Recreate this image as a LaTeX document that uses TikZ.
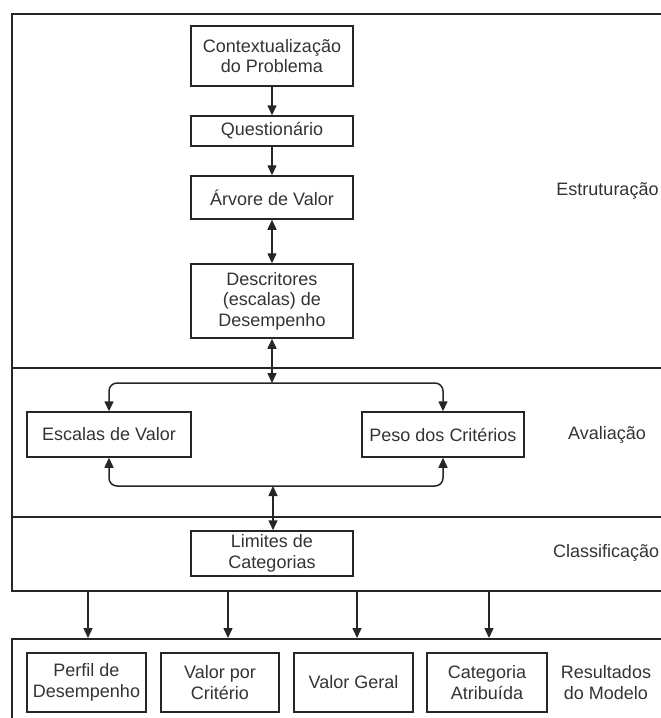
\documentclass[tikz,border=0pt]{standalone}
\usepackage{fontspec}
\setmainfont{Liberation Sans}
\usetikzlibrary{arrows.meta}

\tikzset{
  ink/.style={draw=black!85, line width=1.5pt},
  band/.style={ink, anchor=north west, inner sep=0pt, minimum width=700pt},
  stepbox/.style={ink, text=black!80, align=center, inner sep=0pt,
                  font=\fontsize{18}{20.5}\selectfont},
  tag/.style={text=black!80, align=center, inner sep=0pt,
              font=\fontsize{18}{20.5}\selectfont},
  tip/.style={Triangle[length=10pt,width=9pt]},
  flow/.style={ink, -{Triangle[length=10pt,width=9pt]}},
  twoway/.style={ink, {Triangle[length=10pt,width=9pt]}-{Triangle[length=10pt,width=9pt]}},
}

\begin{document}
\begin{tikzpicture}[x=1pt, y=-1pt]
\useasboundingbox (0,0) rectangle (661,718);
\clip (0,0) rectangle (661,718);

% stage bands
\node[band, minimum height=354pt] (band1) at (11,13) {};
\node[band, minimum height=149pt] (band2) at (11,367) {};
\node[band, minimum height=74pt]  (band3) at (11,516) {};
\node[band, minimum height=120pt] (band4) at (11,638) {};

% stage names
\node[tag] (lEst) at (607.5,191) {Estruturação};
\node[tag] (lAva) at (607,435) {Avaliação};
\node[tag, anchor=west] (lCla) at (553,553) {Classificação};
\node[tag] (lRes) at (606,682.5) {Resultados\\do Modelo};

% structuring steps
\node[stepbox, minimum width=162pt, minimum height=60pt] (ctx) at (272,56) {Contextualização\\do Problema};
\node[stepbox, minimum width=162pt, minimum height=30pt] (quest) at (272,131) {Questionário};
\node[stepbox, minimum width=162pt, minimum height=43pt] (arv) at (272,197.5) {Árvore de Valor};
\node[stepbox, minimum width=162pt, minimum height=74pt] (desc) at (272,301) {Descritores\\(escalas) de\\Desempenho};

% evaluation
\node[stepbox, minimum width=164pt, minimum height=45pt] (esc) at (109,434.5) {Escalas de Valor};
\node[stepbox, minimum width=162pt, minimum height=45pt] (peso) at (443,434.5) {Peso dos Critérios};

% classification
\node[stepbox, minimum width=162pt, minimum height=45pt] (lim) at (272,553.5) {Limites de\\Categorias};

% model results
\node[stepbox, minimum width=119pt, minimum height=59pt] (perfil) at (86.5,682.5) {Perfil de\\Desempenho};
\node[stepbox, minimum width=118pt, minimum height=59pt] (vcrit) at (220,682.5) {Valor por\\Critério};
\node[stepbox, minimum width=119pt, minimum height=59pt] (vger) at (353.5,682.5) {Valor Geral};
\node[stepbox, minimum width=120pt, minimum height=59pt] (cat) at (487,682.5) {Categoria\\Atribuída};

% branch points
\coordinate (split) at (272,383);
\coordinate (merge) at (273,486);

% connectors
\draw[flow] (ctx) -- (quest);
\draw[flow] (quest) -- (arv);
\draw[twoway] (arv) -- (desc);
\draw[twoway] (desc.south) -- (split);
\draw[flow, rounded corners=8pt] (split) -| (esc.north);
\draw[flow, rounded corners=8pt] (split) -| (peso.north);
\draw[flow, rounded corners=8pt] (merge) -| (esc.south);
\draw[flow, rounded corners=8pt] (merge) -| (peso.south);
\draw[twoway] (merge) -- (lim.north -| merge);

\draw[flow] ([xshift=1.5pt]perfil.north |- band3.south) -- ([xshift=1.5pt]perfil.north |- band4.north);
\draw[flow] ([xshift=8pt]vcrit.north |- band3.south) -- ([xshift=8pt]vcrit.north |- band4.north);
\draw[flow] ([xshift=3.5pt]vger.north |- band3.south) -- ([xshift=3.5pt]vger.north |- band4.north);
\draw[flow] ([xshift=2pt]cat.north |- band3.south) -- ([xshift=2pt]cat.north |- band4.north);
\end{tikzpicture}
\end{document}
